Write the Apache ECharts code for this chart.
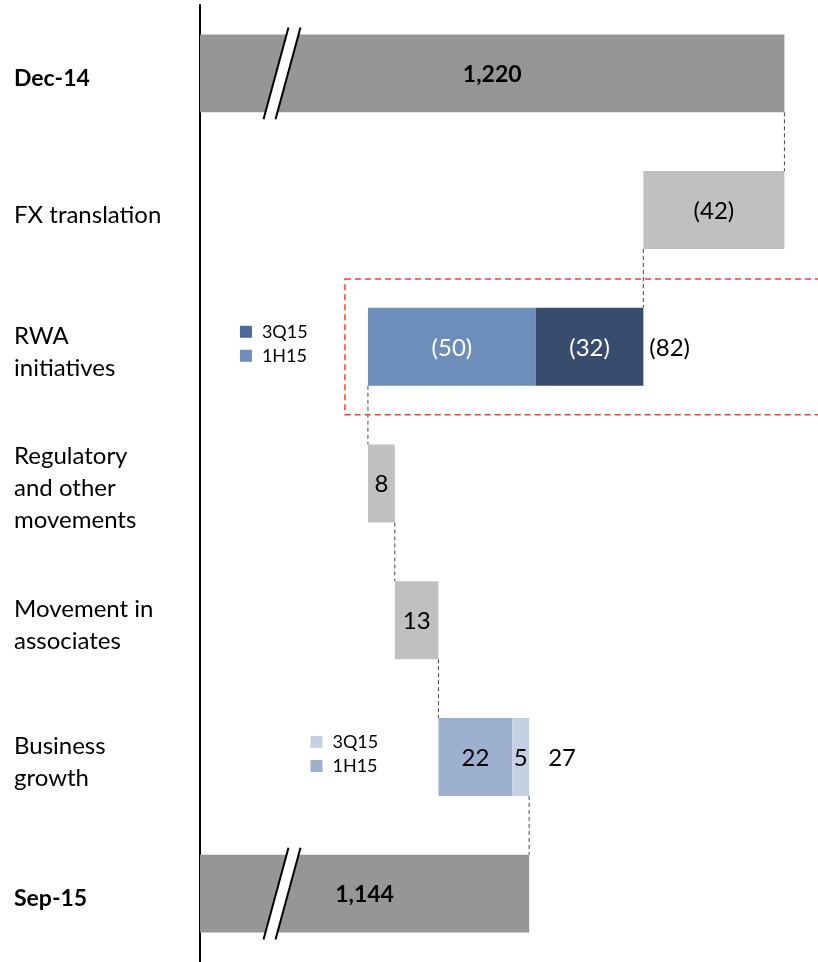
<!DOCTYPE html>
<html>
<head>
<meta charset="utf-8">
<script src="https://cdn.jsdelivr.net/npm/echarts@6/dist/echarts.min.js"></script>
<style>
    html, body { margin: 0; padding: 0; background: #fff; }
    #rwaBridge { width: 818px; height: 962px; }
</style>
</head>
<body>
<div id="rwaBridge"></div>
<script>
// RWA bridge Dec-14 -> Sep-15
const categories = ['Dec-14', 'FX translation', 'RWA\ninitiatives', 'Regulatory\nand other\nmovements', 'Movement in\nassociates', 'Business\ngrowth', 'Sep-15']
const totals = [1220, null, null, null, null, null, 1144]
const changeMain = [null, -42, -50, 8, 13, 22, null]   // single step, or the 1H15 part
const change3Q15 = [null, null, -32, null, null, 5, null]
const legendLabels = ['3Q15', '1H15']
const highlightRow = 2

const axisMin = 1046
const axisMax = 1230
const fontFamily = 'Lato, "Open Sans", sans-serif'

const fmtChange = v => v < 0 ? '(' + Math.abs(v) + ')' : String(v)
const fmtTotal = v => v.toLocaleString('en-US')

// split bars: decreases in dark blues, increases in light blues
const palettes = {
    down: { h1: '#6D8EBA', q3: '#384D6E', legendQ3: '#4A6898', text: '#fff', totalGap: 6 },
    up: { h1: '#9DB0D0', q3: '#C5D0E3', legendQ3: '#C5D0E3', text: '#000', totalGap: 19 },
}

// build the waterfall pieces from the arrays above
const segments = []
const connectors = []
const rowTotals = []
let level = null
categories.forEach((c, i) => {
    if (totals[i] !== null) {
        if (level !== null) connectors.push([i, level])
        segments.push({ cat: i, lo: axisMin, hi: totals[i], kind: 'total', text: fmtTotal(totals[i]) })
        level = totals[i]
        return
    }
    connectors.push([i, level])
    const a = changeMain[i]
    const b = change3Q15[i] || 0
    const delta = a + b
    const lo = Math.min(level, level + delta)
    if (b) {
        const pal = delta < 0 ? palettes.down : palettes.up
        segments.push({ cat: i, lo: lo, hi: lo + Math.abs(a), kind: 'h1', pal: pal, text: fmtChange(a) })
        segments.push({ cat: i, lo: lo + Math.abs(a), hi: lo + Math.abs(a) + Math.abs(b), kind: 'q3', pal: pal, text: fmtChange(b) })
        rowTotals.push({ cat: i, lo: lo, hi: lo + Math.abs(delta), pal: pal, text: fmtChange(delta) })
    } else {
        segments.push({ cat: i, lo: lo, hi: lo + Math.abs(a), kind: 'step', text: fmtChange(a) })
    }
    level += delta
})

const BAR_RATIO = 0.57

function renderBar(params, api) {
    const s = segments[params.dataIndex]
    const p0 = api.coord([s.lo, s.cat])
    const p1 = api.coord([s.hi, s.cat])
    const h = api.size([0, 1])[1] * BAR_RATIO
    const top = p0[1] - h / 2
    let fill = '#C0C0C0'
    let textFill = '#000'
    if (s.kind === 'total') fill = '#969696'
    if (s.kind === 'h1') { fill = s.pal.h1; textFill = s.pal.text }
    if (s.kind === 'q3') { fill = s.pal.q3; textFill = s.pal.text }
    const children = [{
        type: 'rect',
        shape: { x: p0[0], y: top, width: p1[0] - p0[0], height: h },
        style: { fill: fill },
    }]
    if (s.kind === 'total') {
        // axis break marks
        const ext = 7
        const mx = p0[0] + 76
        const slope = 25 / 92
        const dy = h / 2 + ext
        const lt = [mx + dy * slope, p0[1] - dy]
        const lb = [mx - dy * slope, p0[1] + dy]
        const gap = 12
        children.push({
            type: 'polygon',
            shape: { points: [lt, [lt[0] + gap, lt[1]], [lb[0] + gap, lb[1]], lb] },
            style: { fill: '#fff' },
        })
        children.push({ type: 'line', shape: { x1: lt[0], y1: lt[1], x2: lb[0], y2: lb[1] }, style: { stroke: '#000', lineWidth: 2 } })
        children.push({ type: 'line', shape: { x1: lt[0] + gap, y1: lt[1], x2: lb[0] + gap, y2: lb[1] }, style: { stroke: '#000', lineWidth: 2 } })
    }
    children.push({
        type: 'text',
        x: (p0[0] + p1[0]) / 2,
        y: p0[1] + 1,
        style: {
            text: s.text,
            fill: textFill,
            font: (s.kind === 'total' ? 'bold 23px ' : '24px ') + fontFamily,
            align: 'center',
            verticalAlign: 'middle',
        },
    })
    return { type: 'group', children: children }
}

function renderConnector(params, api) {
    const c = connectors[params.dataIndex]
    const h = api.size([0, 1])[1] * BAR_RATIO
    const from = api.coord([c[1], c[0] - 1])
    const to = api.coord([c[1], c[0]])
    return {
        type: 'line',
        shape: { x1: from[0], y1: from[1] + h / 2, x2: to[0], y2: to[1] - h / 2 },
        style: { stroke: '#444', lineWidth: 1, lineDash: [4, 3] },
    }
}

function renderRowTotal(params, api) {
    const r = rowTotals[params.dataIndex]
    const p0 = api.coord([r.lo, r.cat])
    const p1 = api.coord([r.hi, r.cat])
    const children = [{
        type: 'text',
        x: p1[0] + r.pal.totalGap,
        y: p0[1] + 1,
        style: { text: r.text, fill: '#000', font: '24px ' + fontFamily, align: 'left', verticalAlign: 'middle' },
    }]
    // little legend to the left of the split bar
    const lx = p0[0] - 128
    const items = [[legendLabels[0], r.pal.legendQ3, -15], [legendLabels[1], r.pal.h1, 9]]
    items.forEach(it => {
        children.push({ type: 'rect', shape: { x: lx, y: p0[1] + it[2] - 6, width: 12, height: 12 }, style: { fill: it[1] } })
        children.push({
            type: 'text', x: lx + 22, y: p0[1] + it[2],
            style: { text: it[0], fill: '#000', font: '18px ' + fontFamily, align: 'left', verticalAlign: 'middle' },
        })
    })
    if (r.cat === highlightRow) {
        const band = api.size([0, 1])[1]
        children.push({
            type: 'rect',
            shape: { x: p0[0] - 23, y: p0[1] - band / 2 + 0.5, width: 1000, height: band - 1 },
            style: { fill: 'none', stroke: '#FF3B3B', lineWidth: 1.5, lineDash: [6, 4] },
        })
    }
    return { type: 'group', children: children }
}

const chart = echarts.init(document.getElementById('rwaBridge'), null, { renderer: 'canvas' })
chart.setOption({
    animation: false,
    grid: { left: 200, right: 0, top: 5, bottom: 0 },
    xAxis: {
        type: 'value',
        min: axisMin,
        max: axisMax,
        show: false,
    },
    yAxis: {
        type: 'category',
        inverse: true,
        data: categories,
        axisTick: { show: false },
        axisLine: { lineStyle: { color: '#000', width: 2 } },
        axisLabel: {
            align: 'left',
            margin: 186,
            color: '#000',
            fontSize: 24,
            lineHeight: 32,
            padding: [10, 0, 0, 0],
            fontFamily: fontFamily,
            formatter: (v, i) => totals[i] !== null ? '{b|' + v + '}' : v,
            rich: { b: { fontWeight: 'bold', fontSize: 23, fontFamily: fontFamily } },
        },
    },
    series: [
        {
            type: 'custom',
            name: 'connectors',
            renderItem: renderConnector,
            encode: { y: 0, x: 1 },
            data: connectors,
            z: 1,
        },
        {
            type: 'custom',
            name: 'bars',
            renderItem: renderBar,
            encode: { y: 0, x: [1, 2] },
            data: segments.map(s => [s.cat, s.lo, s.hi]),
            z: 2,
        },
        {
            type: 'custom',
            name: 'rowTotals',
            renderItem: renderRowTotal,
            encode: { y: 0, x: [1, 2] },
            data: rowTotals.map(r => [r.cat, r.lo, r.hi]),
            z: 3,
        },
    ],
})
window.addEventListener('resize', () => chart.resize())
</script>
</body>
</html>
